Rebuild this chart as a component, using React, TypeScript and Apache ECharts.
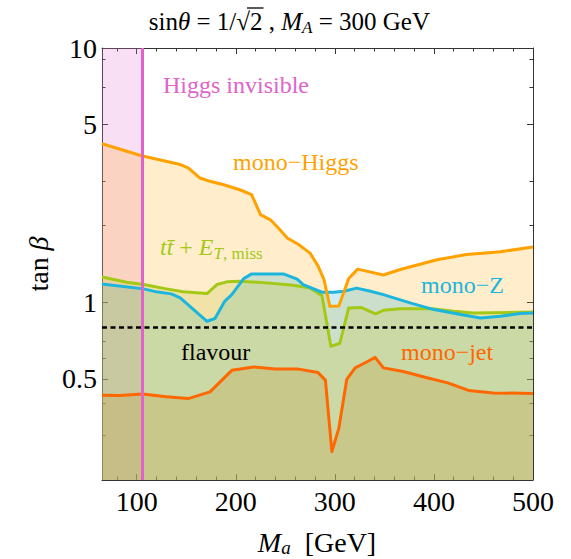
import React, { useEffect, useRef } from "react";
import * as echarts from "echarts";

// ---------- data ----------
const xMin = 65;
const xMax = 500;
const yMin = 0.2;
const yMax = 10;
const xMajorTicks = [100, 200, 300, 400, 500];
const xMinorTicks = [80, 120, 140, 160, 180, 220, 240, 260, 280, 320, 340, 360, 380, 420, 440, 460, 480];
const yMajorTicks = [0.5, 1, 5, 10];
const yMinorTicks = [0.3, 0.4, 0.6, 0.7, 2, 3, 7, 9];

const monoHiggsMa = [65, 105, 144, 152, 164, 174, 188, 204, 216, 225, 235, 243, 252, 263, 275, 283, 289, 295, 304, 314, 323, 349, 366, 403, 433, 467, 500];
const monoHiggsTan = [4.2, 3.77, 3.48, 3.38, 3.08, 2.99, 2.9, 2.77, 2.65, 2.21, 2.11, 1.96, 1.79, 1.69, 1.56, 1.39, 1.23, 0.964, 0.966, 1.24, 1.35, 1.28, 1.345, 1.47, 1.54, 1.58, 1.65];

const ttMetMa = [65, 90, 107, 130, 147, 171, 181, 191, 204, 231, 258, 275, 287, 296, 305, 314, 327, 341, 349, 366, 400, 420, 440, 500];
const ttMetTan = [1.258, 1.198, 1.174, 1.129, 1.099, 1.082, 1.174, 1.203, 1.211, 1.192, 1.166, 1.139, 1.062, 0.671, 0.69, 0.95, 0.953, 0.901, 0.93, 0.944, 0.942, 0.922, 0.908, 0.915];

const monoZMa = [65, 107, 120, 135, 144, 171, 179, 189, 196, 208, 216, 248, 262, 268, 287, 299, 309, 322, 336, 349, 376, 400, 427, 447, 467, 487, 500];
const monoZTan = [1.179, 1.129, 1.099, 1.079, 1.041, 0.842, 0.863, 1.011, 1.072, 1.239, 1.293, 1.293, 1.234, 1.174, 1.095, 1.095, 1.105, 1.137, 1.105, 1.072, 0.995, 0.936, 0.895, 0.868, 0.881, 0.903, 0.907];

const monoJetMa = [65, 83, 106, 130, 152, 174, 196, 218, 240, 262, 283, 290.5, 297, 304, 312, 320.5, 331.6, 340.7, 349, 369, 393, 414, 435, 460, 500];
const monoJetTan = [0.431, 0.43, 0.436, 0.425, 0.418, 0.444, 0.54, 0.557, 0.547, 0.547, 0.529, 0.494, 0.2585, 0.319, 0.497, 0.552, 0.581, 0.607, 0.552, 0.534, 0.505, 0.482, 0.45, 0.44, 0.438];

const higgsInvisibleMa = 106;
const flavourTan = 0.8;

// ---------- styling ----------
const FONT = "'Liberation Serif', 'Times New Roman', serif";
const C_ORANGE = "#ffa200";
const C_CYAN = "#1cb5dd";
const C_GREEN = "#a3c916";
const C_JET = "#ff6700";
const C_MAGENTA = "#e063c9";
const AXIS_COLOR = "#333";

const zip = (xs: number[], ys: number[]) => xs.map((x, i) => [x, ys[i]]);

const GRID = { left: 102, right: 38, top: 48, bottom: 79, outerBoundsMode: "none" } as any;

function xAxisDef(gridIndex: number, position: string, ticks: number[], len: number, withLine: boolean, withLabels: boolean) {
  return {
    type: "value",
    gridIndex,
    position,
    min: xMin,
    max: xMax,
    axisLine: { show: withLine, onZero: false, lineStyle: { color: AXIS_COLOR, width: 1 } },
    axisTick: { show: true, inside: true, length: len, customValues: ticks, lineStyle: { color: AXIS_COLOR, width: 1 } },
    axisLabel: withLabels
      ? { show: true, customValues: ticks, margin: 7, color: "#000", fontFamily: FONT, fontSize: 28 }
      : { show: false },
    splitLine: { show: false },
  };
}

function yAxisDef(gridIndex: number, position: string, ticks: number[], len: number, withLine: boolean, withLabels: boolean) {
  return {
    type: "log",
    logBase: 10,
    gridIndex,
    position,
    min: yMin,
    max: yMax,
    axisLine: { show: withLine, onZero: false, lineStyle: { color: AXIS_COLOR, width: 1 } },
    axisTick: { show: true, inside: true, length: len, customValues: ticks, lineStyle: { color: AXIS_COLOR, width: 1 } },
    axisLabel: withLabels
      ? {
          show: true,
          customValues: ticks,
          margin: 5,
          color: "#000",
          fontFamily: FONT,
          fontSize: 28,
          formatter: (v: number) => String(Number(Number(v).toPrecision(3))),
        }
      : { show: false },
    splitLine: { show: false },
  };
}

function fillSeries(name: string, data: number[][], color: string) {
  return {
    name: name + "-fill",
    type: "line",
    xAxisIndex: 0,
    yAxisIndex: 0,
    data,
    symbol: "none",
    silent: true,
    z: 1,
    lineStyle: { width: 0, opacity: 0 },
    areaStyle: { color, origin: "start", opacity: 1 },
  };
}

function lineSeries(name: string, data: number[][], color: string, z = 3) {
  return {
    name,
    type: "line",
    xAxisIndex: 0,
    yAxisIndex: 0,
    data,
    symbol: "none",
    silent: true,
    z,
    lineStyle: { width: 3, color, join: "round" },
  };
}

const txt = (x: number, y: number, text: string, rich: any, align = "left", rotation = 0) => ({
  type: "text",
  x,
  y,
  rotation,
  z: 100,
  style: { text, rich, align, verticalAlign: "middle", fontFamily: FONT },
});

const richSet = (color: string, size: number, subSize: number, lh: number) => ({
  n: { fontFamily: FONT, fontSize: size, fill: color, lineHeight: lh },
  i: { fontFamily: FONT, fontSize: size, fill: color, fontStyle: "italic", lineHeight: lh },
  s: { fontFamily: FONT, fontSize: subSize, fill: color, fontStyle: "italic", lineHeight: subSize, verticalAlign: "bottom" },
  sn: { fontFamily: FONT, fontSize: subSize, fill: color, lineHeight: subSize, verticalAlign: "bottom" },
});

const TITLE_SIZE = 25;
const TITLE_X = 250; // start of the "2" under the radical
const TITLE_Y = 21;

export default function App() {
  const ref = useRef<HTMLDivElement>(null);
  useEffect(() => {
    if (!ref.current) return;
    const chart = echarts.init(ref.current, null, { renderer: "svg" });
    const titleRich = richSet("#000", TITLE_SIZE, 17, 30);
    const option: any = {
      animation: false,
      backgroundColor: "#fff",
      grid: [GRID, GRID, GRID, GRID],
      xAxis: [
        xAxisDef(0, "bottom", xMajorTicks, 6, true, true),
        xAxisDef(1, "bottom", xMinorTicks, 3.5, false, false),
        xAxisDef(2, "top", xMajorTicks, 6, true, false),
        xAxisDef(3, "top", xMinorTicks, 3.5, false, false),
      ],
      yAxis: [
        yAxisDef(0, "left", yMajorTicks, 6, true, true),
        yAxisDef(1, "left", yMinorTicks, 3.5, false, false),
        yAxisDef(2, "right", yMajorTicks, 6, true, false),
        yAxisDef(3, "right", yMinorTicks, 3.5, false, false),
      ],
      series: [
        fillSeries("mono-Higgs", zip(monoHiggsMa, monoHiggsTan), "rgba(255,165,0,0.2)"),
        fillSeries("mono-Z", zip(monoZMa, monoZTan), "rgba(0,170,210,0.2)"),
        fillSeries("ttMET", zip(ttMetMa, ttMetTan), "rgba(200,200,57,0.25)"),
        fillSeries("mono-jet", zip(monoJetMa, monoJetTan), "rgba(197,161,75,0.3)"),
        {
          name: "higgs-invisible-area",
          type: "line",
          xAxisIndex: 0,
          yAxisIndex: 0,
          data: [],
          z: 2,
          silent: true,
          markArea: {
            silent: true,
            itemStyle: { color: "rgba(232,120,205,0.24)" },
            data: [[{ xAxis: xMin }, { xAxis: higgsInvisibleMa }]],
          },
        },
        lineSeries("tt+MET", zip(ttMetMa, ttMetTan), C_GREEN),
        lineSeries("mono-Z", zip(monoZMa, monoZTan), C_CYAN),
        lineSeries("mono-Higgs", zip(monoHiggsMa, monoHiggsTan), C_ORANGE),
        lineSeries("mono-jet", zip(monoJetMa, monoJetTan), C_JET),
        {
          name: "lines",
          type: "line",
          xAxisIndex: 0,
          yAxisIndex: 0,
          data: [],
          z: 5,
          silent: true,
          markLine: {
            silent: true,
            symbol: ["none", "none"],
            label: { show: false },
            data: [
              { yAxis: flavourTan, lineStyle: { type: [5, 3.5], color: "#000", width: 2.5 } },
              { xAxis: higgsInvisibleMa, lineStyle: { type: "solid", color: C_MAGENTA, width: 3 } },
            ],
          },
        },
      ],
      graphic: [
        txt(TITLE_X, TITLE_Y, "{n|sin}{i|θ}{n| = 1/√}", titleRich, "right"),
        txt(TITLE_X, TITLE_Y, "{n|2}", titleRich, "left"),
        txt(TITLE_X + TITLE_SIZE * 0.5, TITLE_Y, "{n| , }{i|M}{s|A}{n| = 300 GeV}", titleRich, "left"),
        {
          type: "line",
          z: 100,
          shape: { x1: TITLE_X - 3, y1: 8, x2: TITLE_X + TITLE_SIZE * 0.5 + 1, y2: 8 },
          style: { stroke: "#000", lineWidth: 1.3 },
        },
        txt(317, 542, "{i|M}{s|a}{n|  [GeV]}", richSet("#000", 28, 19, 30), "center"),
        txt(38, 264, "{n|tan }{i|β}", richSet("#000", 28, 19, 34), "center", Math.PI / 2),
        txt(163, 85, "{n|Higgs invisible}", richSet(C_MAGENTA, 24, 16, 30)),
        txt(233, 162, "{n|mono−Higgs}", richSet(C_ORANGE, 24, 16, 30)),
        txt(160, 247, "{i|tt\u0304}{n| + }{i|E}{s|T}{sn|, miss}", richSet(C_GREEN, 24, 17, 30)),
        txt(421, 285, "{n|mono−Z}", richSet(C_CYAN, 24, 16, 30)),
        txt(181, 352, "{n|flavour}", richSet("#000", 24, 16, 30)),
        txt(401, 352, "{n|mono−jet}", richSet(C_JET, 24, 16, 30)),
      ],
    };
    chart.setOption(option);
    return () => chart.dispose();
  }, []);
  return <div ref={ref} style={{ position: "absolute", left: 0, top: 0, width: 571, height: 559 }} />;
}
